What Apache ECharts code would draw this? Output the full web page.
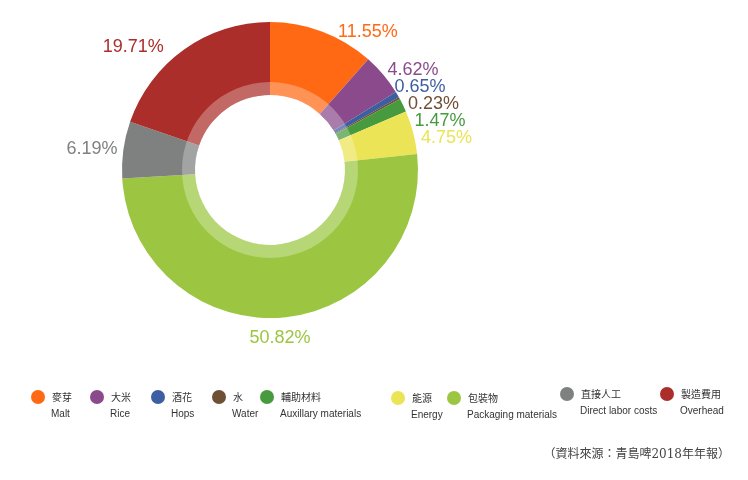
<!DOCTYPE html>
<html>
<head>
<meta charset="utf-8">
<script src="https://cdn.jsdelivr.net/npm/echarts@6/dist/echarts.min.js"></script>
<style>
  html, body { margin: 0; padding: 0; background: #fff; }
  #chart { width: 748px; height: 480px; }
</style>
</head>
<body>
<div id="chart"></div>
<script>
// 成本構成（青島啤酒 2018）
const namesCn = ["麥芽", "大米", "酒花", "水", "輔助材料", "能源", "包裝物", "直接人工", "製造費用"];
const namesEn = ["Malt", "Rice", "Hops", "Water", "Auxillary materials", "Energy", "Packaging materials", "Direct labor costs", "Overhead"];
const shares = [11.55, 4.62, 0.65, 0.23, 1.47, 4.75, 50.82, 6.19, 19.71];
const colors = ["#FF6914", "#8A4A8B", "#3E5EA2", "#6E5035", "#479A3D", "#EBE456", "#9CC641", "#7F8080", "#AB2E2A"];
const source = "（資料來源：青島啤2018年年報）";

// 圖例位置（左上角）
const legendPos = [[31, 375], [90, 375], [151, 375], [212, 375], [260, 375],
                   [391, 376], [447, 376], [560, 372], [660, 372]];
// 標籤微調（dx, dy）
const labelShift = [[1, 4], [-8, -2], [-15, -6], [-11, -9], [-11, -12], [-8, -15], [-46, 17], [11, 0], [-5, 1]];

const myChart = echarts.init(document.getElementById("chart"));

const pieData = namesCn.map((n, i) => ({
  name: n,
  value: shares[i],
  itemStyle: { color: colors[i] },
  label: { color: colors[i] },
}));

const legends = namesCn.map((n, i) => ({
  data: [n],
  left: legendPos[i][0],
  top: legendPos[i][1],
  orient: "horizontal",
  icon: "circle",
  itemWidth: 14,
  itemHeight: 14,
  selectedMode: false,
  padding: 0,
  formatter: (name) => "{sp| }\n{cn|" + name + "}\n{en|" + namesEn[namesCn.indexOf(name)] + "}",
  textStyle: {
    rich: {
      sp: { fontSize: 10, lineHeight: 17 },
      cn: { fontSize: 10, lineHeight: 17, color: "#333", fontFamily: "Noto Sans CJK TC", padding: [0, 0, 0, 2] },
      en: { fontSize: 10, lineHeight: 17, color: "#333", fontFamily: "Liberation Sans, Arial", padding: [0, 0, 0, 1] },
    },
  },
}));

const option = {
  animation: false,
  title: {
    text: source,
    right: 18,
    top: 449,
    padding: 0,
    textStyle: { fontSize: 12, fontWeight: "normal", color: "#444", fontFamily: "DejaVu Serif, Noto Sans CJK TC" },
  },
  legend: legends,
  series: [
    {
      type: "pie",
      center: [270, 170],
      radius: [75, 148],
      startAngle: 90,
      clockwise: true,
      avoidLabelOverlap: true,
      label: {
        show: true,
        position: "outside",
        fontSize: 18,
        lineHeight: 17,
        fontFamily: "Liberation Sans, Arial",
        formatter: (p) => p.value.toFixed(2) + "%",
      },
      labelLine: { show: false, length: 4, length2: 8 },
      labelLayout: (p) => ({ dx: labelShift[p.dataIndex][0], dy: labelShift[p.dataIndex][1] }),
      emphasis: { disabled: true },
      data: pieData,
    },
    {
      // 內圈淡色環
      type: "pie",
      center: [270, 170],
      radius: [75, 88],
      silent: true,
      label: { show: false },
      labelLine: { show: false },
      emphasis: { disabled: true },
      itemStyle: { color: "rgba(255,255,255,0.28)" },
      data: [{ value: 1, name: "" }],
    },
  ],
};

myChart.setOption(option);
</script>
</body>
</html>
